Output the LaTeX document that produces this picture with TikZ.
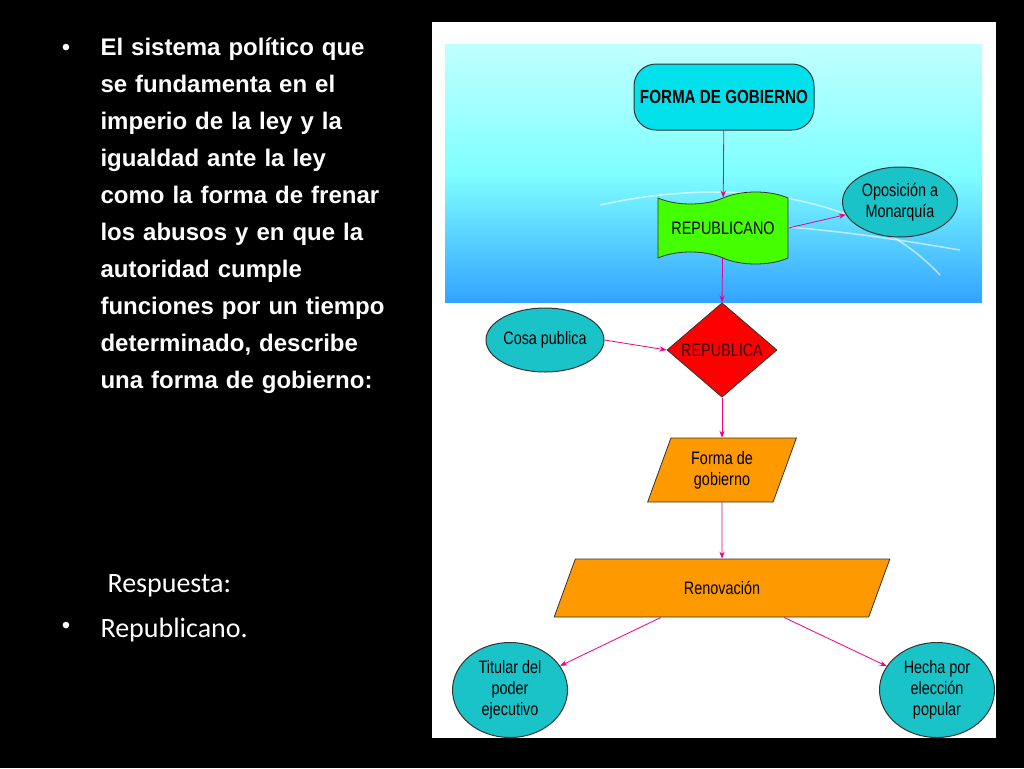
\documentclass[tikz,border=0pt]{standalone}
\usepackage{fontspec}
\setmainfont{Carlito}
\newfontfamily\arl{Liberation Sans}[FakeStretch=0.8]
\newfontfamily\arb{Liberation Sans}
\usetikzlibrary{shapes.geometric,shapes.symbols,arrows.meta}
\definecolor{cy}{RGB}{0,225,235}
\definecolor{ce}{RGB}{25,195,200}
\begin{document}
\begin{tikzpicture}[x=1pt,y=-1pt,
 every node/.style={font=\arl\fontsize{18}{21}\selectfont,align=center},
 arr/.style={draw=magenta,-{Stealth[length=7pt]},line width=0.8pt},
 ell/.style={ellipse,draw=black!80,fill=ce,line width=1pt,inner sep=0pt},
 para/.style={trapezium,trapezium left angle=70,trapezium right angle=110,draw=black!80,fill=orange!80!yellow,line width=0.8pt,inner sep=1pt}]
\fill[black] (0,0) rectangle (1024,768);
\useasboundingbox (0,0) rectangle (1024,768);
% left text
\node[anchor=north west,text=white,align=left,text width=285pt,font=\arb\bfseries\fontsize{24}{37}\selectfont] (txt) at (97,34)
{\raggedright El sistema político que se fundamenta en el imperio de la ley y la igualdad ante la ley como la forma de frenar los abusos y en que la autoridad cumple funciones por un tiempo determinado, describe una forma de gobierno:\par};
\node[text=white,font=\arb\fontsize{24}{30}\selectfont] (b1) at (66,50) {•};
\node[anchor=west,text=white,font=\fontsize{28}{30}\selectfont] (resp) at (104,586) {Respuesta:};
\node[text=white,font=\arb\fontsize{24}{30}\selectfont] (b2) at (66,628) {•};
\node[anchor=west,text=white,font=\fontsize{28}{30}\selectfont] (rep) at (97,630) {Republicano.};
% panel
\fill[white] (432,22) rectangle (996,738);
\shade[top color=cyan!25,bottom color=blue!45!cyan!80,middle color=cyan!50] (445,45) rectangle (982,302);
\draw[white,opacity=0.6,line width=1.5pt] (600,205) .. controls (760,170) and (880,210) .. (940,275);
\draw[white,opacity=0.6,line width=1.5pt] (760,225) .. controls (840,230) and (900,240) .. (960,250);
\node[rounded corners=22pt,draw=black!80,fill=cy,line width=1pt,minimum width=180pt,minimum height=66pt,font=\arl\bfseries\fontsize{19}{21}\selectfont] (fg) at (724,97) {FORMA DE GOBIERNO};
\node[tape,tape bend top=in and out,tape bend bottom=out and in,tape bend height=12pt,draw=black!80,fill=green!65!lime,line width=0.8pt,minimum width=130pt,minimum height=72pt] (rp) at (723,228) {REPUBLICANO};
\node[ell,minimum width=115pt,minimum height=70pt] (op) at (900,202) {Oposición a\\Monarquía};
\node[ell,minimum width=118pt,minimum height=64pt] (cp) at (545,340) {Cosa publica};
\node[diamond,draw=black!80,fill=red,minimum width=110pt,minimum height=76pt,inner sep=0pt,line width=0.8pt,text=black!80!red] (ra) at (722,350) {REPUBLICA};
\node[para,minimum width=100pt,minimum height=64pt] (fo) at (722,470) {Forma de\\gobierno};
\node[para,minimum width=110pt,minimum height=58pt] (rn) at (722,588) {Renovación};
\node[ell,minimum width=115pt,minimum height=95pt] (ti) at (510,690) {Titular del\\poder\\ejecutivo};
\node[ell,minimum width=115pt,minimum height=95pt] (he) at (937,690) {Hecha por\\elección\\popular};
\draw[arr] (fg) -- (rp);
\draw[arr] (rp.east) -- (op);
\draw[arr] (rp) -- (ra.north);
\draw[arr] (cp.east) -- (ra.west);
\draw[arr] (ra) -- (fo);
\draw[arr] (fo) -- (rn);
\draw[arr] (rn) -- (ti);
\draw[arr] (rn) -- (he);
\end{tikzpicture}
\end{document}
